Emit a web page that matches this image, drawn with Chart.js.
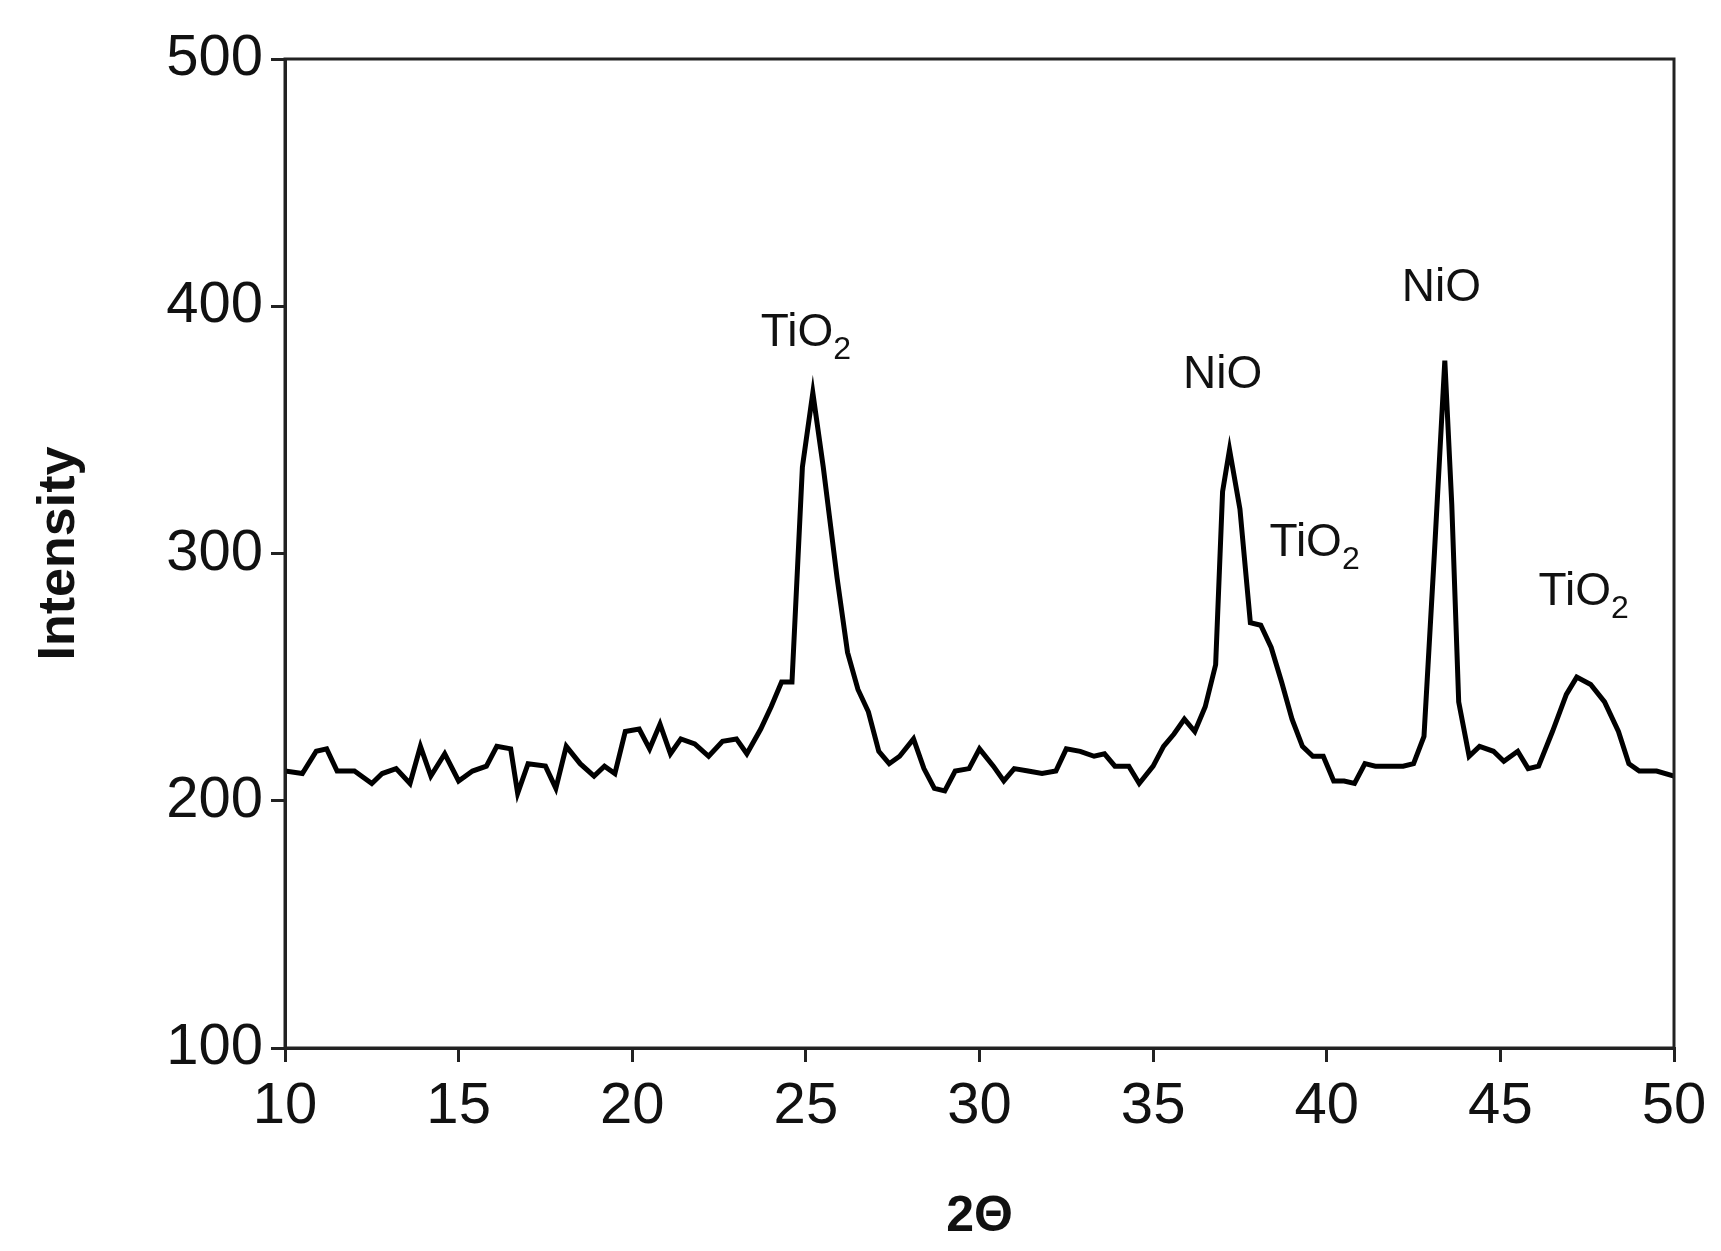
<!DOCTYPE html>
<html>
<head>
<meta charset="utf-8">
<script src="https://cdn.jsdelivr.net/npm/chart.js@4"></script>
<style>
  html, body { margin: 0; padding: 0; background: #fff; }
  #wrap { width: 1721px; height: 1251px; }
</style>
</head>
<body>
<div id="wrap"><canvas id="chart"></canvas></div>
<script>
// 2-theta positions and measured intensities
const twoTheta = [10,10.5,10.9,11.2,11.5,12,12.5,12.8,13.2,13.6,13.9,14.2,14.6,15,15.4,15.8,16.1,16.5,16.7,17,17.5,17.8,18.1,18.5,18.9,19.2,19.5,19.8,20.2,20.5,20.8,21.1,21.4,21.8,22.2,22.6,23,23.3,23.7,24,24.3,24.6,24.9,25.2,25.5,25.9,26.2,26.5,26.8,27.1,27.4,27.7,28.1,28.4,28.7,29,29.3,29.7,30,30.4,30.7,31,31.4,31.8,32.2,32.5,32.9,33.3,33.6,33.9,34.3,34.6,35,35.3,35.6,35.9,36.2,36.5,36.8,37,37.2,37.5,37.8,38.1,38.4,38.7,39,39.3,39.6,39.9,40.2,40.5,40.8,41.1,41.4,41.8,42.2,42.5,42.8,43.1,43.4,43.6,43.8,44.1,44.4,44.8,45.1,45.5,45.8,46.1,46.5,46.9,47.2,47.6,48,48.4,48.7,49,49.5,50];
const intensity = [212,211,220,221,212,212,207,211,213,207,222,210,219,208,212,214,222,221,203,215,214,205,222,215,210,214,211,228,229,221,231,219,225,223,218,224,225,219,229,238,248,248,335,365,335,290,260,245,236,220,215,218,225,213,205,204,212,213,221,214,208,213,212,211,212,221,220,218,219,214,214,207,214,222,227,233,228,238,255,325,342,318,272,271,262,248,233,222,218,218,208,208,207,215,214,214,214,215,226,300,378,320,240,218,222,220,216,220,213,214,228,243,250,247,240,228,215,212,212,210];

// peak labels
const peakNames = ['TiO', 'NiO', 'TiO', 'NiO', 'TiO'];
const peakSubs = ['2', '', '2', '', '2'];
const peakX = [25.0, 37.0, 39.65, 43.3, 47.4];
const peakY = [391, 374, 306, 409, 286];

const xTicks = [10, 15, 20, 25, 30, 35, 40, 45, 50];
const FONT = 'Arial, "Liberation Sans", sans-serif';

const frame = {
  id: 'frame',
  afterDatasetsDraw(chart) {
    const { ctx, chartArea: a, scales } = chart;
    ctx.save();
    ctx.strokeStyle = '#222';
    ctx.lineWidth = 3;
    ctx.strokeRect(a.left, a.top, a.right - a.left, a.bottom - a.top);
    ctx.fillStyle = '#111';
    ctx.textBaseline = 'alphabetic';
    peakNames.forEach((n, i) => {
      ctx.font = '46px ' + FONT;
      const w = ctx.measureText(n).width;
      ctx.font = '32px ' + FONT;
      const ws = peakSubs[i] ? ctx.measureText(peakSubs[i]).width : 0;
      const cx = scales.x.getPixelForValue(peakX[i]);
      const cy = scales.y.getPixelForValue(peakY[i]) + 17;
      const x0 = cx - (w + ws) / 2;
      ctx.font = '46px ' + FONT;
      ctx.fillText(n, x0, cy);
      if (peakSubs[i]) {
        ctx.font = '32px ' + FONT;
        ctx.fillText(peakSubs[i], x0 + w, cy + 13);
      }
    });
    ctx.restore();
  }
};

new Chart(document.getElementById('chart').getContext('2d'), {
  type: 'line',
  data: {
    datasets: [{
      data: twoTheta.map((x, i) => ({ x: x, y: intensity[i] })),
      borderColor: '#000',
      borderWidth: 5,
      pointRadius: 0,
      tension: 0,
      fill: false
    }]
  },
  options: {
    responsive: true,
    maintainAspectRatio: false,
    animation: false,
    layout: { padding: { top: 59, right: 47, left: 24, bottom: 0 } },
    plugins: { legend: { display: false }, tooltip: { enabled: false } },
    scales: {
      x: {
        type: 'linear', min: 10, max: 50,
        afterBuildTicks: s => { s.ticks = xTicks.map(v => ({ value: v })); },
        afterFit: s => { s.height = 203; },
        grid: { drawOnChartArea: false, tickLength: 14, color: '#222', lineWidth: 3 },
        border: { color: '#222', width: 3 },
        ticks: { color: '#111', padding: 10, maxRotation: 0, font: { size: 58, family: FONT } },
        title: { display: true, text: '2Θ', color: '#111', padding: { top: 0 }, font: { size: 50, weight: 'bold', family: FONT } }
      },
      y: {
        min: 100, max: 500,
        afterFit: s => { s.width = 261; },
        grid: { drawOnChartArea: false, tickLength: 14, color: '#222', lineWidth: 3 },
        border: { color: '#222', width: 3 },
        ticks: { stepSize: 100, color: '#111', padding: 8, font: { size: 58, family: FONT } },
        title: { display: true, text: 'Intensity', color: '#111', padding: { bottom: 10 }, font: { size: 52, weight: 'bold', family: FONT } }
      }
    }
  },
  plugins: [frame]
});
</script>
</body>
</html>
